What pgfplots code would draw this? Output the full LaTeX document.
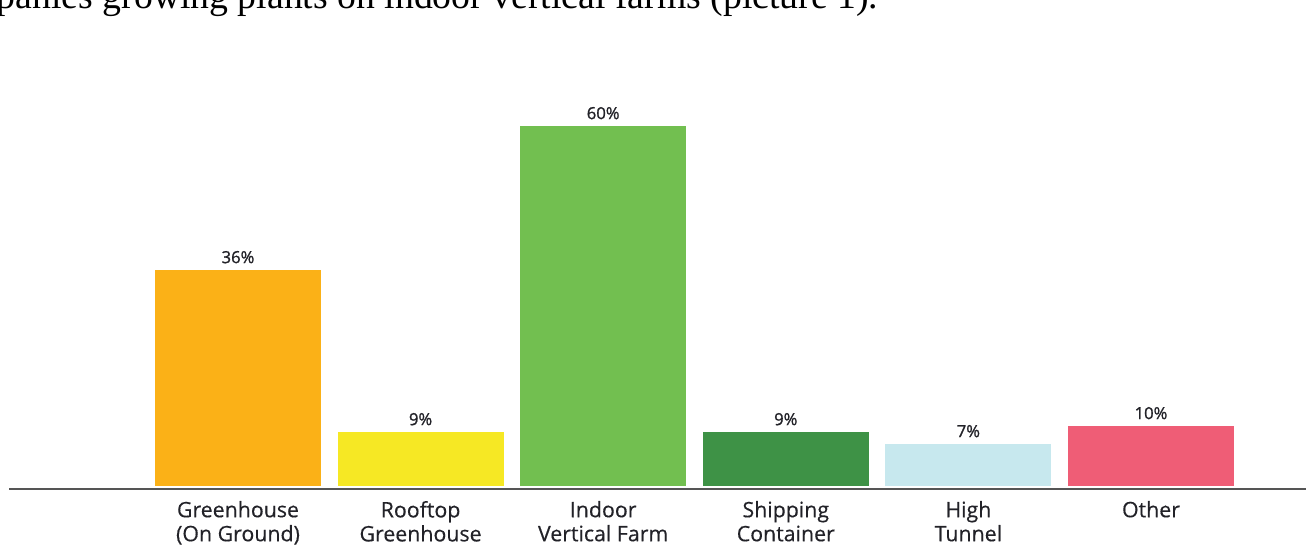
\documentclass[border=0pt]{standalone}
\usepackage{pgfplots}
\pgfplotsset{compat=1.18}
\usepackage{fontspec}
\setmainfont{Open Sans}
\newfontfamily\topfont{Liberation Serif}
\newfontfamily\semifont[FakeBold=1.2]{Open Sans}
\newfontfamily\labfont[FakeBold=0.4]{Open Sans}
\definecolor{cOrange}{HTML}{FBB117}
\definecolor{cYellow}{HTML}{F6E824}
\definecolor{cGreen}{HTML}{72BF50}
\definecolor{cDGreen}{HTML}{3E9246}
\definecolor{cLBlue}{HTML}{C7E8EE}
\definecolor{cPink}{HTML}{EF5D76}
\definecolor{cAxis}{HTML}{555555}
\definecolor{cText}{HTML}{222228}
\begin{document}
\begin{tikzpicture}
\clip (0,0) rectangle (979.5pt,408.75pt);
\node[anchor=base west, inner sep=0pt, font=\topfont\fontsize{28.3}{32}\selectfont] at (-2.5pt,402.5pt) {panies growing plants on indoor vertical farms (picture 1).};
\begin{axis}[
  at={(6.75pt,42pt)}, anchor=south west,
  scale only axis, width=972.75pt, height=366.75pt,
  xmin=-1.254, xmax=5.849, ymin=-0.5, ymax=81,
  axis x line=bottom, axis y line=none,
  x axis line style={-, draw=cAxis, line width=1.5pt},
  ytick=\empty,
  xtick={0,1,2,3,4,5},
  xticklabels={{Greenhouse\\(On Ground)},{Rooftop\\Greenhouse},{Indoor\\Vertical Farm},{Shipping\\Container},{High\\Tunnel},{Other}},
  xtick style={draw=none}, major tick length=0pt,
  xticklabel style={align=center, font=\labfont\fontsize{16}{18}\selectfont, text=cText, anchor=north, yshift=-5.5pt},
  ybar, bar width=0.909, bar shift=0pt,
  nodes near coords={\pgfmathprintnumber[assume math mode=true]{\pgfplotspointmeta}\%},
  every node near coord/.append style={font=\semifont\fontsize{12.5}{14}\selectfont, text=cText, yshift=1.5pt},
  clip=false,
]
\addplot[fill=cOrange, draw=none] coordinates {(0,36)};
\addplot[fill=cYellow, draw=none] coordinates {(1,9)};
\addplot[fill=cGreen, draw=none] coordinates {(2,60)};
\addplot[fill=cDGreen, draw=none] coordinates {(3,9)};
\addplot[fill=cLBlue, draw=none] coordinates {(4,7)};
\addplot[fill=cPink, draw=none] coordinates {(5,10)};
\end{axis}
\end{tikzpicture}
\end{document}
